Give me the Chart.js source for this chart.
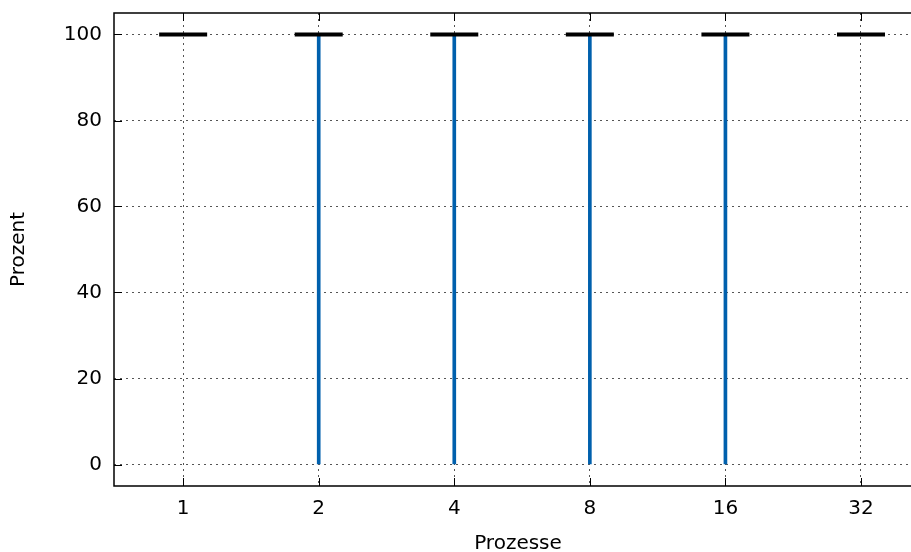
<!DOCTYPE html>
<html>
<head>
<meta charset="utf-8">
<script src="https://cdn.jsdelivr.net/npm/chart.js@4"></script>
<style>
  html, body { margin: 0; padding: 0; background: #fff; overflow: hidden; }
  .wrap { width: 911px; height: 552px; overflow: hidden; }
  canvas { display: block; }
</style>
</head>
<body>
<div class="wrap"><canvas id="chart" width="924" height="552"></canvas></div>
<script>
const categories = ["1", "2", "4", "8", "16", "32"];
const whiskerLow = [100, 0, 0, 0, 0, 100];
const whiskerHigh = [100, 100, 100, 100, 100, 100];
const medians = [100, 100, 100, 100, 100, 100];
const yTicks = [0, 20, 40, 60, 80, 100];

const font = { family: "DejaVu Sans", size: 20 };
const titleFont = { family: "DejaVu Sans", size: 20, lineHeight: 1 };

// left/top/bottom border + inward tick marks (x ticks mirrored on top)
const frame = {
  id: "frame",
  afterDatasetsDraw(chart) {
    const { ctx, chartArea: a, scales } = chart;
    ctx.save();
    ctx.strokeStyle = "#000";
    ctx.lineWidth = 1;
    ctx.beginPath();
    scales.x.ticks.forEach((t) => {
      const px = Math.round(scales.x.getPixelForValue(t.value)) + 0.5;
      ctx.moveTo(px, a.bottom);
      ctx.lineTo(px, a.bottom - 8);
      ctx.moveTo(px, a.top);
      ctx.lineTo(px, a.top + 8);
    });
    scales.y.ticks.forEach((t) => {
      const py = Math.round(scales.y.getPixelForValue(t.value)) + 0.5;
      ctx.moveTo(a.left, py);
      ctx.lineTo(a.left + 8, py);
    });
    ctx.stroke();
    ctx.lineWidth = 1.5;
    ctx.beginPath();
    ctx.moveTo(a.right, a.top);
    ctx.lineTo(a.left, a.top);
    ctx.lineTo(a.left, a.bottom);
    ctx.lineTo(a.right, a.bottom);
    ctx.stroke();
    ctx.restore();
  },
};

new Chart(document.getElementById("chart"), {
  type: "bar",
  data: {
    datasets: [
      {
        type: "scatter",
        data: categories.map((c, i) => ({ x: i, y: medians[i] })),
        pointStyle: "line",
        pointRadius: 24,
        pointHoverRadius: 24,
        borderWidth: 4,
        borderColor: "#000",
        order: 1,
      },
      {
        type: "bar",
        data: categories.map((c, i) => ({ x: i, y: [whiskerLow[i], whiskerHigh[i]] })),
        backgroundColor: "#0060ad",
        barThickness: 3,
        order: 2,
      },
    ],
  },
  options: {
    responsive: false,
    animation: false,
    layout: { autoPadding: false, padding: { top: 13, right: 2, left: 0, bottom: 0 } },
    plugins: { legend: { display: false }, tooltip: { enabled: false } },
    scales: {
      x: {
        type: "linear",
        offset: false,
        min: -0.51,
        max: 5.45,
        afterBuildTicks(scale) {
          scale.ticks = categories.map((c, i) => ({ value: i }));
        },
        afterFit(scale) {
          scale.height = 66;
          scale.paddingLeft = 0;
          scale.paddingRight = 0;
        },
        ticks: {
          callback: (v) => categories[v],
          font,
          color: "#000",
          padding: 11,
          maxRotation: 0,
          autoSkip: false,
        },
        grid: { color: "#555", drawTicks: false, lineWidth: 1, offset: false },
        border: { display: false, dash: [2, 4] },
        title: {
          display: true,
          text: "Prozesse",
          font: titleFont,
          color: "#000",
          padding: { top: 0, bottom: -2 },
        },
      },
      y: {
        min: -5,
        max: 105,
        afterBuildTicks(scale) {
          scale.ticks = yTicks.map((v) => ({ value: v }));
        },
        afterFit(scale) {
          scale.width = 114;
          scale.paddingTop = 0;
          scale.paddingBottom = 0;
        },
        ticks: { font, color: "#000", padding: 12 },
        grid: { color: "#555", drawTicks: false, lineWidth: 1 },
        border: { display: false, dash: [2, 4] },
        title: {
          display: true,
          text: "Prozent",
          font: titleFont,
          color: "#000",
          padding: { top: 9, bottom: 0 },
        },
      },
    },
  },
  plugins: [frame],
});
</script>
</body>
</html>
